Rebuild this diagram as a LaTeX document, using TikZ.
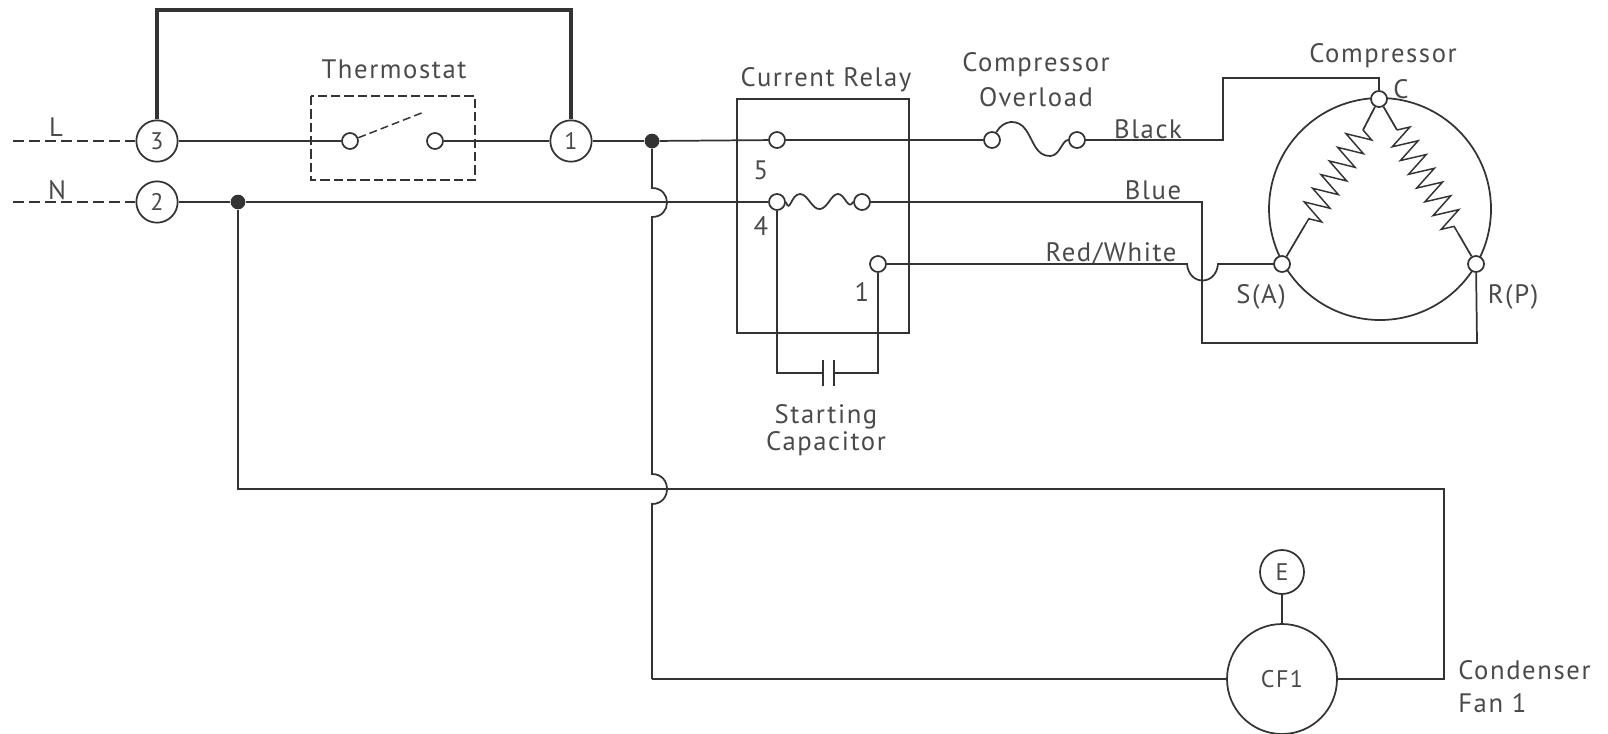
\documentclass[tikz,border=0pt]{standalone}
\usepackage{fontspec}
\setmainfont[LetterSpace=6]{PT Sans}
\usepackage{xcolor}
\usepackage{tikz}
\usetikzlibrary{calc,decorations.pathmorphing}
\definecolor{ink}{HTML}{333333}
\definecolor{lab}{HTML}{4A4A4A}
\tikzset{
  wire/.style={draw=ink, line width=1.3pt},
  jumper/.style={draw=ink, line width=2.4pt},
  dashwire/.style={draw=ink, line width=1.1pt, dash pattern=on 8pt off 4pt},
  bigterm/.style={circle, draw=ink, line width=1.3pt, fill=white, minimum size=31pt, inner sep=0pt, text=lab, font=\fontsize{18}{20}\selectfont},
  term/.style={circle, draw=ink, line width=1.3pt, fill=white, minimum size=12pt, inner sep=0pt},
  dot/.style={circle, fill=ink, minimum size=11pt, inner sep=0pt},
  lbl/.style={text=lab, inner sep=0pt, font=\fontsize{20}{22}\selectfont},
  winding/.style={wire, line width=1.1pt, decorate, decoration={zigzag, segment length=12pt, amplitude=9.5pt}}
}
\newcommand{\lowtxt}[1]{\raisebox{-4pt}{#1}}

\begin{document}
\begin{tikzpicture}[x=0.75pt, y=-0.75pt]
  \useasboundingbox (0,0) rectangle (1608,733);

  % terminal strip
  \node[bigterm] (three) at (157,141) {\lowtxt{3}};
  \node[bigterm] (two) at (157,202) {\lowtxt{2}};
  \node[bigterm] (one) at (571,141) {\lowtxt{1}};
  \coordinate (lineL) at (13,141);
  \coordinate (lineN) at (13,202);
  \coordinate (barL) at (157,10);
  \coordinate (barR) at (571,10);
  \draw[dashwire] (lineL) -- (three);
  \draw[dashwire] (lineN) -- (two);
  \draw[jumper] (three.north) -- (barL) -- (barR) -- (one.north);
  \node[lbl] (labL) at (56,127) {L};
  \node[lbl] (labN) at (57,190) {N};

  % thermostat
  \draw[dashwire, line width=1.4pt, dash pattern=on 7pt off 3pt] (311,96) rectangle (475,180);
  \node[lbl] (labTherm) at (394,69) {Thermostat};
  \node[term] (thA) at (350,141) {};
  \node[term] (thB) at (435,141) {};
  \coordinate (arm) at (424,112);
  \draw[dashwire, dash pattern=on 6pt off 3pt] (thA) -- (arm);
  \draw[wire] (three) -- (thA);
  \draw[wire] (thB) -- (one);

  % junctions and crossovers
  \node[dot] (dotL) at (652,141) {};
  \node[dot] (dotN) at (238,202) {};
  \coordinate (hopA1) at (652,188);
  \coordinate (hopA2) at (652,217);
  \coordinate (hopB1) at (652,474);
  \coordinate (hopB2) at (652,504);
  \coordinate (fanTurn) at (652,679);
  \coordinate (neuTurn) at (238,489);
  \coordinate (fanR) at (1444,489);
  \coordinate (fanRb) at (1444,679);
  \draw[wire] (one) -- (dotL);
  \draw[wire] (two) -- (dotN);
  \draw[wire] (dotL) -- (hopA1) .. controls (672,188) and (672,217) .. (hopA2)
    -- (hopB1) .. controls (672,474) and (672,504) .. (hopB2) -- (fanTurn);

  % relay
  \draw[wire] (737,99) rectangle (909,333);
  \node[lbl] (labRelay) at (826,80) {Current Relay};
  \node[term] (rFive) at (777,140) {};
  \node[term] (rFour) at (777,202) {};
  \node[term] (rCoil) at (862,202) {};
  \node[term] (rOne) at (878,264) {};
  \node[lbl] (labFive) at (761,170) {5};
  \node[lbl] (labFour) at (761,226) {4};
  \node[lbl] (labOne) at (862,292) {1};
  \draw[wire] (dotL) -- (rFive);
  \draw[wire] (dotN) -- (rFour);
  \draw[wire] (rFour.east) .. controls (790,214) and (791,194) .. (800,194)
    .. controls (808,194) and (812,210) .. (820,209)
    .. controls (828,208) and (831,194) .. (838,194)
    .. controls (845,194) and (848,211) .. (rCoil.west);

  % starting capacitor
  \coordinate (capL) at (777,373);
  \coordinate (capR) at (878,373);
  \coordinate (plateA) at (823,373);
  \coordinate (plateB) at (834,373);
  \draw[wire] (rFour) -- (capL) -- (plateA);
  \draw[wire] (rOne) -- (capR) -- (plateB);
  \draw[wire] (823,360) -- (823,386);
  \draw[wire] (834,360) -- (834,386);
  \node[lbl] (labStart) at (826,417) {Starting};
  \node[lbl] (labCap) at (826,444) {Capacitor};

  % overload
  \node[term] (ovA) at (992,140) {};
  \node[term] (ovB) at (1077,140) {};
  \node[lbl] (labComp) at (1036,65) {Compressor};
  \node[lbl] (labOver) at (1036,97) {Overload};
  \draw[wire] (rFive) -- (ovA);
  \draw[wire] (ovA) .. controls (1003,120) and (1018,118) .. (1026,130)
    .. controls (1034,142) and (1036,156) .. (1050,156)
    .. controls (1060,156) and (1062,140) .. (ovB);

  % compressor
  \draw[wire] (1380,209) circle[radius=111];
  \node[term] (cC) at (1379,99) {};
  \node[term] (cS) at (1282,264) {};
  \node[term] (cR) at (1476,264) {};
  \node[lbl] (labCompr) at (1383,56) {Compressor};
  \node[lbl] (labC) at (1401,89) {C};
  \node[lbl] (labS) at (1261,297) {S(A)};
  \node[lbl] (labR) at (1513,297) {R(P)};
  \coordinate (blackA) at (1223,140);
  \coordinate (blackB) at (1223,78);
  \coordinate (blackC) at (1379,78);
  \node[lbl] (labBlack) at (1148,129) {Black};
  \draw[wire] (ovB) -- (blackA) -- (blackB) -- (blackC) -- (cC);
  \coordinate (blueA) at (1202,202);
  \coordinate (blueB) at (1202,343);
  \coordinate (blueC) at (1477,343);
  \node[lbl] (labBlue) at (1153,190) {Blue};
  \draw[wire] (rCoil) -- (blueA) -- (blueB) -- (blueC) -- (cR);
  \coordinate (hopC1) at (1187,264);
  \coordinate (hopC2) at (1218,264);
  \node[lbl] (labRed) at (1111,254) {Red/White};
  \draw[wire] (rOne) -- (hopC1) .. controls (1189,286) and (1216,286) .. (hopC2) -- (cS);

  % windings
  \coordinate (coilA1) at (1363,130);
  \coordinate (coilA2) at (1305,225);
  \coordinate (coilB1) at (1397,130);
  \coordinate (coilB2) at (1458,233);
  \draw[wire] (cC) -- (coilA1);
  \draw[wire] (coilA2) -- (cS);
  \draw[wire] (cC) -- (coilB1);
  \draw[wire] (coilB2) -- (cR);
  \draw[winding] (coilA1) -- (coilA2);
  \draw[winding] (coilB1) -- (coilB2);

  % condenser fan
  \node[bigterm, minimum size=82.5pt] (cfOne) at (1282,679) {\lowtxt{CF1}};
  \node[bigterm, minimum size=33pt] (fanE) at (1282,572) {\lowtxt{E}};
  \draw[jumper, line width=2pt] (fanE) -- (cfOne);
  \draw[wire] (dotN) -- (neuTurn) -- (fanR) -- (fanRb) -- (cfOne);
  \draw[wire] (fanTurn) -- (cfOne);
  \node[lbl, anchor=west] (labCond) at (1458,670) {Condenser};
  \node[lbl, anchor=west] (labFan) at (1458,703) {Fan 1};
\end{tikzpicture}
\end{document}
